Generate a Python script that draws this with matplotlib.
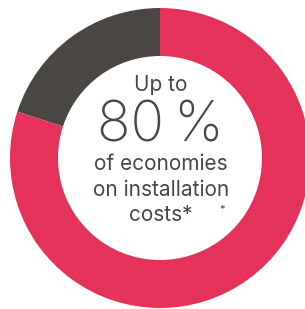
import matplotlib.pyplot as plt

# donut shares: savings vs the rest
labels = ["other", "economies"]
shares = [20, 80]
colors = ["#4a4643", "#e5325a"]

headline = "80\u2009%"
lines = ["of economies", "on installation", "costs*"]

W, H = 305, 309
fig = plt.figure(figsize=(W / 100, H / 100), dpi=100)
ax = fig.add_axes([0, 0, 1, 1])
ax.set_xlim(0, W)
ax.set_ylim(0, H)
ax.set_aspect("equal")
ax.axis("off")

ax.pie(shares, colors=colors, startangle=90, counterclock=True,
       center=(160, H - 158), radius=150,
       wedgeprops=dict(width=48, edgecolor="none"))
ax.set_xlim(0, W)
ax.set_ylim(0, H)

txt = "#4a4643"
font = ["Inter", "DejaVu Sans"]
ax.text(161, H - 85, "Up to", ha="center", va="center", fontsize=15,
        color=txt, family=font)
ax.text(160, H - 126, headline, ha="center", va="center", fontsize=40,
        color=txt, family=font, fontweight="light")
for y, s in zip([164, 190, 215], lines):
    ax.text(161, H - y, s, ha="center", va="center", fontsize=15,
            color=txt, family=font)
ax.text(222, H - 210, "*", ha="center", va="center", fontsize=8,
        color=txt, family=font)

fig.savefig("out.png", dpi=100)
